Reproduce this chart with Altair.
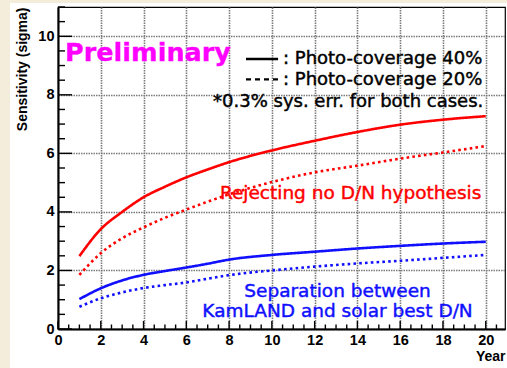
import altair as alt
import pandas as pd
import numpy as np

# ---- data ----
years = [1, 2, 3, 4, 5, 6, 7, 8, 10, 12, 14, 16, 18, 20]
reject_40 = [2.49, 3.41, 4.00, 4.50, 4.86, 5.18, 5.45, 5.70, 6.10, 6.43, 6.73, 6.98, 7.15, 7.27]
reject_20 = [1.85, 2.59, 3.10, 3.47, 3.80, 4.08, 4.35, 4.60, 5.02, 5.35, 5.58, 5.82, 6.03, 6.25]
sep_40 = [1.02, 1.39, 1.66, 1.85, 1.98, 2.10, 2.23, 2.37, 2.53, 2.64, 2.75, 2.84, 2.92, 2.98]
sep_20 = [0.76, 1.05, 1.25, 1.40, 1.50, 1.59, 1.72, 1.84, 2.00, 2.13, 2.24, 2.33, 2.43, 2.53]

x_ticks = [0, 2, 4, 6, 8, 10, 12, 14, 16, 18, 20]
y_ticks = [0, 2, 4, 6, 8, 10]

rows = []
for test, cov, vals in [("reject", "40%", reject_40), ("reject", "20%", reject_20),
                        ("sep", "40%", sep_40), ("sep", "20%", sep_20)]:
    for yr, v in zip(years, vals):
        rows.append({"year": yr, "sigma": v, "test": test, "coverage": cov,
                     "series": test + cov})
df = pd.DataFrame(rows)

XD = [0, 20.9]
YD = [0, 11]
xs = alt.Scale(domain=XD, nice=False, zero=False)
ys = alt.Scale(domain=YD, nice=False, zero=False)

W, H = 447, 322
BEIGE = "#f5eddc"
TFONT = "DejaVu Sans"
one = pd.DataFrame({"a": [0]})

# decorative beige slide strips (outside the plot)
strip_left = alt.Chart(one).mark_rect(color=BEIGE).encode(
    x=alt.value(-58), x2=alt.value(-48), y=alt.value(-7), y2=alt.value(361))
strip_top = alt.Chart(one).mark_rect(color=BEIGE).encode(
    x=alt.value(-58), x2=alt.value(449), y=alt.value(-7), y2=alt.value(-4))

# main lines with axes
lines = alt.Chart(df).mark_line(strokeWidth=2.6, interpolate="monotone").encode(
    x=alt.X("year:Q", scale=xs, axis=alt.Axis(
        values=x_ticks, title="Year", grid=True, tickSize=0, labelFlush=False,
        labelPadding=4, titleX=W, titleY=31, titleAlign="right",
        titleBaseline="alphabetic")),
    y=alt.Y("sigma:Q", scale=ys, axis=alt.Axis(
        values=y_ticks, title="Sensitivity (sigma)", grid=True, tickSize=0,
        labelPadding=4, labelFlush=False, titleAngle=270, titleX=-36, titleY=0,
        titleAlign="right", titleBaseline="middle")),
    color=alt.Color("test:N", scale=alt.Scale(domain=["reject", "sep"],
                                              range=["#ff0000", "#1010ff"]), legend=None),
    strokeDash=alt.StrokeDash("coverage:N", scale=alt.Scale(
        domain=["40%", "20%"], range=[[1, 0], [2.6, 3.2]]), legend=None),
    detail="series:N",
)

# inward ticks (ROOT style)
y_major = pd.DataFrame({"v": y_ticks})
y_minor = pd.DataFrame({"v": [v for v in np.arange(0, 11.01, 0.5) if v not in y_ticks]})
x_major = pd.DataFrame({"v": x_ticks})
x_minor = pd.DataFrame({"v": [v for v in np.arange(0, 20.91, 0.5) if v not in x_ticks]})

tk = dict(color="black", strokeWidth=1.4)
ytm = alt.Chart(y_major).mark_rule(**tk).encode(
    y=alt.Y("v:Q", scale=ys), x=alt.value(0), x2=alt.value(14))
ytn = alt.Chart(y_minor).mark_rule(**tk).encode(
    y=alt.Y("v:Q", scale=ys), x=alt.value(0), x2=alt.value(7))
xtm = alt.Chart(x_major).mark_rule(**tk).encode(
    x=alt.X("v:Q", scale=xs), y=alt.value(H), y2=alt.value(H - 8))
xtn = alt.Chart(x_minor).mark_rule(**tk).encode(
    x=alt.X("v:Q", scale=xs), y=alt.value(H), y2=alt.value(H - 4.5))

def txt(s, x, y, color="black", size=18.5, weight="normal", align="left",
        font=TFONT, sw=0.45):
    return alt.Chart(one).mark_text(
        text=s, color=color, fontSize=size, fontWeight=weight, align=align,
        baseline="alphabetic", font=font, stroke=color, strokeWidth=sw).encode(
        x=alt.datum(x, scale=xs), y=alt.datum(y, scale=ys))

prelim = txt("Preliminary", 0.33, 9.16, color="#ff00ff", size=25.5, weight="bold", sw=0.3)
leg1 = txt(": Photo-coverage 40%", 10.52, 9.05, size=18)
leg2 = txt(": Photo-coverage 20%", 10.52, 8.34, size=18)
leg3 = txt("*0.3% sys. err. for both cases.", 7.25, 7.59, size=18)
rej = txt("Rejecting no D/N hypothesis", 7.57, 4.43, color="#ff0000")
sep1 = txt("Separation between", 13.07, 1.10, color="#1010ff", align="center")
sep2 = txt("KamLAND and solar best D/N", 13.07, 0.42, color="#1010ff", align="center")

legline1 = alt.Chart(one).mark_rule(color="black", strokeWidth=2.5).encode(
    x=alt.datum(8.79, scale=xs), x2=alt.datum(10.29), y=alt.datum(9.22, scale=ys))
legline2 = alt.Chart(one).mark_rule(color="black", strokeWidth=2.2, strokeDash=[5, 4]).encode(
    x=alt.datum(8.79, scale=xs), x2=alt.datum(10.29), y=alt.datum(8.53, scale=ys))

chart = alt.layer(
    strip_left, strip_top, lines, ytm, ytn, xtm, xtn,
    legline1, legline2, prelim, leg1, leg2, leg3, rej, sep1, sep2,
).properties(
    width=W, height=H,
    autosize=alt.AutoSizeParams(type="none"),
    padding={"left": 58, "top": 7, "right": 2, "bottom": 39},
    background="white",
).configure_view(
    stroke="black", strokeWidth=1.2,
).configure_axis(
    gridColor="#7a7a7a", gridDash=[1.5, 1], gridWidth=1.6, gridOpacity=1,
    domainColor="black", domainWidth=2,
    labelFont="Liberation Sans", labelFontWeight="bold", labelFontSize=14.5,
    labelColor="black",
    titleFont="Liberation Sans", titleFontWeight="bold", titleFontSize=14,
    titleColor="black",
)

chart.save("out.html", embed_options={"renderer": "svg", "actions": False})
